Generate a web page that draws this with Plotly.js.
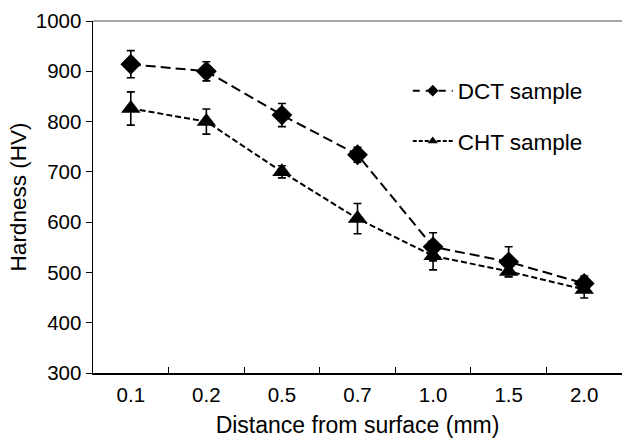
<!DOCTYPE html>
<html>
<head>
<meta charset="utf-8">
<script src="https://cdn.plot.ly/plotly-3.0.1.min.js"></script>
<style>html,body{margin:0;padding:0;background:#fff}#chart{width:622px;height:442px}</style>
</head>
<body>
<div id="chart"></div>
<script>
var categories = ["0.1", "0.2", "0.5", "0.7", "1.0", "1.5", "2.0"];
var dctValues = [914, 900, 813, 734, 551, 521, 478];
var dctErrors = [27, 19, 23, 15, 28, 30, 15];
var chtValues = [826, 800, 700, 607, 533, 502, 466];
var chtErrors = [33, 25, 12, 30, 28, 10, 17];
var yTicks = [300, 400, 500, 600, 700, 800, 900, 1000];

var font = "Liberation Sans, Arial, sans-serif";

var traces = [
  {
    x: categories, y: dctValues, type: "scatter", mode: "lines+markers",
    name: "DCT sample", showlegend: false,
    line: {color: "#000", width: 2, dash: "10px,5px"},
    marker: {symbol: "diamond", size: 16, color: "#000"},
    error_y: {type: "data", array: dctErrors, visible: true, color: "#000", thickness: 1.6, width: 4}
  },
  {
    x: categories, y: chtValues, type: "scatter", mode: "lines+markers",
    name: "CHT sample", showlegend: false,
    line: {color: "#000", width: 2, dash: "6px,3px"},
    marker: {symbol: "triangle-up", size: 17, color: "#000"},
    error_y: {type: "data", array: chtErrors, visible: true, color: "#000", thickness: 1.6, width: 4}
  },
  {
    x: [null], y: [null], type: "scatter", mode: "lines+markers",
    name: "DCT sample", legendgroup: "a",
    line: {color: "#000", width: 2, dash: "7px,6px"},
    marker: {symbol: "diamond", size: 9, color: "#000"}
  },
  {
    x: [null], y: [null], type: "scatter", mode: "lines+markers",
    name: "CHT sample", legendgroup: "b",
    line: {color: "#000", width: 2, dash: "4px,2px"},
    marker: {symbol: "triangle-up", size: 9, color: "#000"}
  }
];

var layout = {
  width: 622, height: 442,
  margin: {l: 93, r: 0, t: 21, b: 69},
  paper_bgcolor: "#fff", plot_bgcolor: "#fff",
  font: {family: font, color: "#000", size: 20},
  showlegend: true,
  legend: {
    x: 0.595, y: 0.862, xanchor: "left", yanchor: "top",
    font: {family: font, size: 22.5, color: "#000"},
    tracegroupgap: 18, bgcolor: "rgba(0,0,0,0)", itemwidth: 40
  },
  xaxis: {
    type: "category", tickson: "boundaries", ticks: "inside", ticklen: 6,
    tickcolor: "#000", showline: true, linecolor: "#000", linewidth: 1.5,
    showgrid: false, zeroline: false, ticklabelstandoff: 3,
    tickfont: {family: font, size: 20.5, color: "#000"},
    title: {text: "Distance from surface (mm)", font: {family: font, size: 23, color: "#000"}, standoff: 12},
    automargin: false, range: [-0.5, 6.5]
  },
  yaxis: {
    range: [300, 1000], tickvals: yTicks, ticks: "outside", ticklen: 6,
    tickcolor: "#000", showline: true, linecolor: "#000", linewidth: 1.5,
    showgrid: false, zeroline: false,
    tickfont: {family: font, size: 20.5, color: "#000"},
    title: {text: "Hardness (HV)", font: {family: font, size: 22.5, color: "#000"}, standoff: 3},
    automargin: true
  },
  shapes: [
    {type: "line", xref: "paper", yref: "paper", x0: 0, x1: 1, y0: 1, y1: 1,
     line: {color: "#888", width: 1.5}}
  ]
};

Plotly.newPlot("chart", traces, layout, {displayModeBar: false, staticPlot: true});
</script>
</body>
</html>
